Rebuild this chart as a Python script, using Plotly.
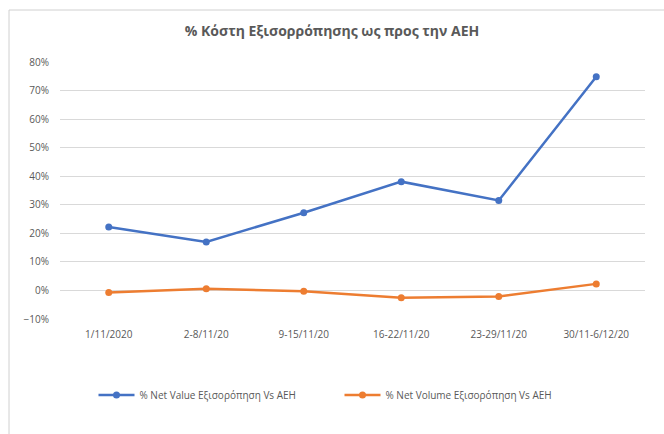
import plotly.graph_objects as go

categories = ["1/11/2020", "2-8/11/20", "9-15/11/20", "16-22/11/20", "23-29/11/20", "30/11-6/12/20"]
net_value = [0.222, 0.170, 0.272, 0.381, 0.315, 0.748]
net_volume = [-0.007, 0.006, -0.003, -0.026, -0.021, 0.023]
series_names = ["% Net Value Εξισορόπηση Vs AEH", "% Net Volume Εξισορόπηση Vs AEH"]
title_text = "% Κόστη Εξισορρόπησης ως προς την ΑΕΗ"
y_ticks = [-0.1, 0, 0.1, 0.2, 0.3, 0.4, 0.5, 0.6, 0.7, 0.8]

W, H = 664, 434
ml, mr, mt, mb = 60, 19, 62, 115
pw, ph = W - ml - mr, H - mt - mb

def px_x(x):
    return (x - ml) / pw

def px_y(y):
    return (H - mb - y) / ph

fig = go.Figure()
fig.add_trace(go.Scatter(x=categories, y=net_value, mode="lines+markers", name=series_names[0],
                         line=dict(color="#4472C4", width=2.5), marker=dict(size=7, color="#4472C4")))
fig.add_trace(go.Scatter(x=categories, y=net_volume, mode="lines+markers", name=series_names[1],
                         line=dict(color="#ED7D31", width=2.5), marker=dict(size=7, color="#ED7D31")))

fig.update_layout(
    width=W, height=H,
    margin=dict(l=ml, r=mr, t=mt, b=mb),
    paper_bgcolor="white", plot_bgcolor="white",
    font=dict(family="Open Sans", color="#595959", size=10),
    title=dict(text="<b>" + title_text + "</b>", x=0.5, xanchor="center", y=1 - 31 / H, yanchor="middle",
               font=dict(size=14, color="#595959", family="Open Sans")),
    showlegend=True,
    legend=dict(orientation="h", x=0.5 - 13 / pw, xanchor="center", y=px_y(395), yanchor="middle",
                font=dict(size=10, color="#595959"), itemwidth=36, entrywidth=195,
                entrywidthmode="pixels", traceorder="normal"),
    xaxis=dict(type="category", showgrid=False, showline=False, zeroline=False,
               ticks="", ticklabelstandoff=8, tickfont=dict(size=10, color="#595959"), range=[-0.5, 5.5]),
    yaxis=dict(range=[-0.1, 0.8], tickvals=y_ticks, tickformat=".0%", showgrid=True,
               gridcolor="#D9D9D9", gridwidth=1, zeroline=True, zerolinecolor="#D9D9D9", zerolinewidth=1,
               showline=False, ticks="", ticklabelstandoff=10,
               tickfont=dict(size=10, color="#595959")),
    shapes=[
        dict(type="line", xref="paper", yref="paper", x0=px_x(9), x1=px_x(664), y0=px_y(10), y1=px_y(10),
             line=dict(color="#D0D0D0", width=1)),
        dict(type="line", xref="paper", yref="paper", x0=px_x(9), x1=px_x(9), y0=px_y(10), y1=px_y(434),
             line=dict(color="#D0D0D0", width=1)),
    ],
)

fig.write_html("out.html", config={"displayModeBar": False},
               post_script="document.body.style.margin='0';document.body.style.overflow='hidden';")
